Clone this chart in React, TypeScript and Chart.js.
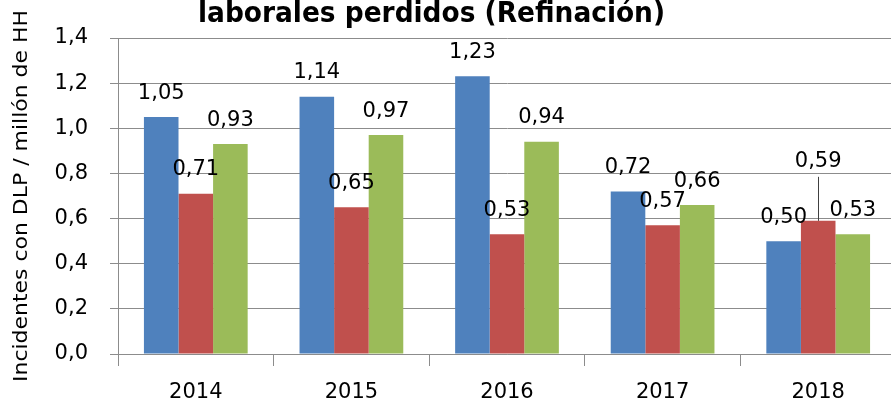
import React, { useEffect, useRef } from 'react';
import { Chart, registerables } from 'chart.js';

Chart.register(...registerables);

const categories = ['2014', '2015', '2016', '2017', '2018'];
const seriesBlue = [1.05, 1.14, 1.23, 0.72, 0.5];
const seriesRed = [0.71, 0.65, 0.53, 0.57, 0.59];
const seriesGreen = [0.93, 0.97, 0.94, 0.66, 0.53];
const yMin = 0;
const yMax = 1.4;
const yStep = 0.2;
const titleText = 'laborales perdidos (Refinación)';
const yAxisTitle = 'Incidentes con DLP / millón de HH';

const fmt = (v: number, d: number) => v.toFixed(d).replace('.', ',');

const GRID = '#8c8c8c';

const decorPlugin = {
  id: 'decor',
  afterDatasetsDraw(chart: any) {
    const ctx = chart.ctx;
    ctx.save();
    ctx.font = '21px "DejaVu Sans"';
    ctx.fillStyle = '#000';
    ctx.textAlign = 'center';
    ctx.textBaseline = 'alphabetic';
    chart.data.datasets.forEach((ds: any, di: number) => {
      const meta = chart.getDatasetMeta(di);
      meta.data.forEach((bar: any, i: number) => {
        const v = ds.data[i] as number;
        const moved = di === 1 && i === 4;
        const lift = moved ? 54 : 18.5;
        const baseY = bar.y - lift;
        ctx.fillText(fmt(v, 2), bar.x, baseY);
        if (moved) {
          ctx.save();
          ctx.strokeStyle = '#404040';
          ctx.lineWidth = 1;
          ctx.beginPath();
          ctx.moveTo(Math.round(bar.x) + 0.5, baseY + 10);
          ctx.lineTo(Math.round(bar.x) + 0.5, bar.y);
          ctx.stroke();
          ctx.restore();
        }
      });
    });
    ctx.restore();
  },
  afterDraw(chart: any) {
    const ctx = chart.ctx;
    const area = chart.chartArea;
    // Y axis title
    ctx.save();
    ctx.fillStyle = '#000';
    ctx.font = '19px "DejaVu Sans"';
    ctx.textAlign = 'center';
    ctx.textBaseline = 'alphabetic';
    ctx.translate(27, (area.top + area.bottom) / 2);
    ctx.rotate(-Math.PI / 2);
    const w = ctx.measureText(yAxisTitle).width;
    ctx.scale(372 / w, 1);
    ctx.fillText(yAxisTitle, 0, 0);
    ctx.restore();
    // Chart title (partly cut at the top)
    ctx.save();
    ctx.fillStyle = '#000';
    ctx.font = 'bold 28px "DejaVu Sans"';
    ctx.textAlign = 'center';
    ctx.textBaseline = 'alphabetic';
    ctx.translate(431.5, 22);
    const tw = ctx.measureText(titleText).width;
    ctx.scale(467 / tw, 1);
    ctx.fillText(titleText, 0, 0);
    ctx.restore();
  },
};

export default function App() {
  const ref = useRef<HTMLCanvasElement | null>(null);

  useEffect(() => {
    document.body.style.margin = '0';
    const canvas = ref.current;
    if (!canvas) return;
    const chart = new Chart(canvas, {
      type: 'bar',
      data: {
        labels: categories,
        datasets: [
          { label: 'Serie 1', data: seriesBlue, backgroundColor: '#4F81BD' },
          { label: 'Serie 2', data: seriesRed, backgroundColor: '#C0504D' },
          { label: 'Serie 3', data: seriesGreen, backgroundColor: '#9BBB59' },
        ],
      },
      options: {
        animation: false,
        responsive: false,
        maintainAspectRatio: false,
        devicePixelRatio: 1,
        datasets: {
          bar: { categoryPercentage: 2 / 3, barPercentage: 1 },
        },
        layout: { padding: { left: 0, right: 4, top: 38, bottom: 0 } },
        plugins: {
          legend: { display: false },
          title: { display: false },
          tooltip: { enabled: false },
        },
        scales: {
          x: {
            afterFit: (s: any) => {
              s.height = 48;
            },
            grid: {
              drawOnChartArea: false,
              drawTicks: true,
              tickLength: 12,
              color: GRID,
              offset: true,
            },
            border: { display: true, color: GRID, width: 1 },
            ticks: {
              color: '#000',
              font: { family: 'DejaVu Sans', size: 21 },
              padding: 14,
              maxRotation: 0,
            },
          },
          y: {
            min: yMin,
            max: yMax,
            afterFit: (s: any) => {
              s.width = 118;
            },
            grid: {
              color: GRID,
              tickLength: 8,
              drawTicks: true,
            },
            border: { display: true, color: GRID, width: 1 },
            ticks: {
              stepSize: yStep,
              color: '#000',
              font: { family: 'DejaVu Sans', size: 21 },
              padding: 22,
              callback: (v: any) => fmt(Number(v), 1),
            },
          },
        },
      },
      plugins: [decorPlugin],
    });
    return () => chart.destroy();
  }, []);

  return (
    <div style={{ width: 891, height: 402, overflow: 'hidden', position: 'relative', background: '#fff' }}>
      <canvas ref={ref} width={900} height={402} style={{ display: 'block' }} />
    </div>
  );
}
